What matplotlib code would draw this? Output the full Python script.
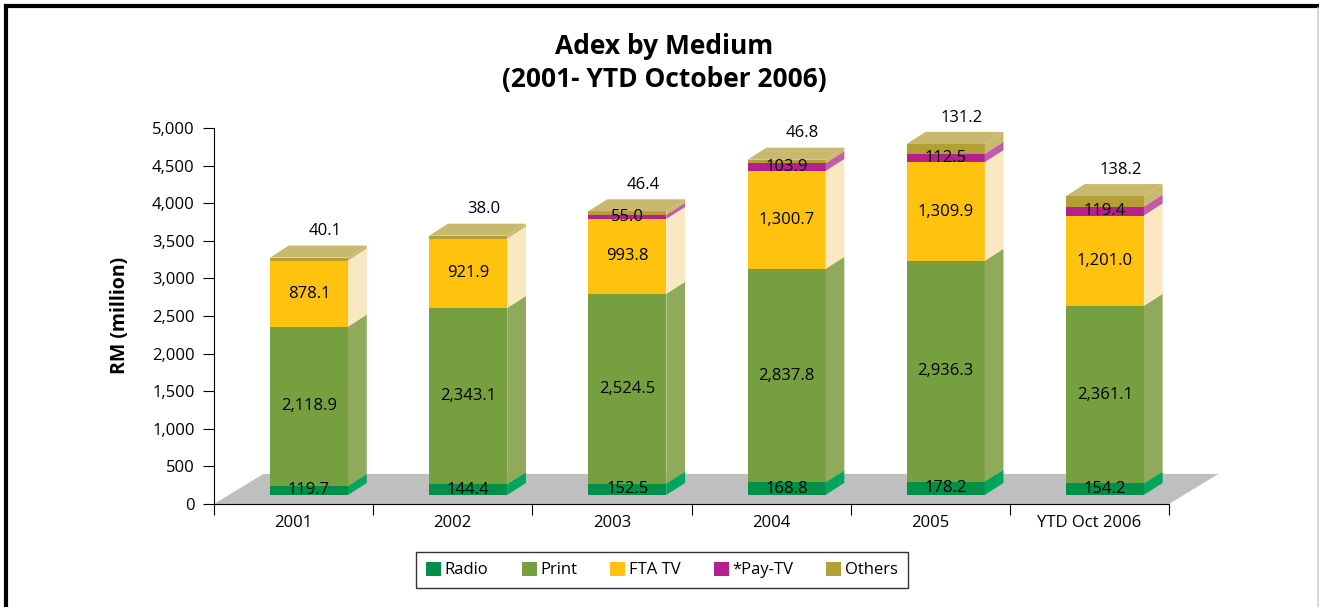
import matplotlib
matplotlib.use('Agg')
import matplotlib.pyplot as plt
from matplotlib.patches import Polygon, Rectangle, Patch
from matplotlib.lines import Line2D
from matplotlib.ticker import FuncFormatter, FixedLocator

plt.rcParams['font.family'] = ['Open Sans', 'DejaVu Sans']

years = ['2001', '2002', '2003', '2004', '2005', 'YTD Oct 2006']
radio = [119.7, 144.4, 152.5, 168.8, 178.2, 154.2]
print_ = [2118.9, 2343.1, 2524.5, 2837.8, 2936.3, 2361.1]
fta_tv = [878.1, 921.9, 993.8, 1300.7, 1309.9, 1201.0]
pay_tv = [0, 0, 55.0, 103.9, 112.5, 119.4]
others = [40.1, 38.0, 46.4, 46.8, 131.2, 138.2]

series_names = ['Radio', 'Print', 'FTA TV', '*Pay-TV', 'Others']
series_vals = [radio, print_, fta_tv, pay_tv, others]
front_cols = ['#00904A', '#76A040', '#FFC20E', '#B5208E', '#B3A034']
side_cols = ['#00A55E', '#8EAA5A', '#FAE8C2', '#C35CA6', '#C8B96E']
top_col = '#C8B96E'

W, H = 1319, 607
fig = plt.figure(figsize=(W / 100, H / 100), dpi=100)
ax = fig.add_axes([214 / W, 1 - 504 / H, 955 / W, 376 / H])
ax.set_xlim(0, 6)
ax.set_ylim(0, 5000)

# fake 3d depth (x in categories, y in RM)
dx, dy = 0.118, 160
fdx, fdy = 0.31, 400
base = 120
xoff, bw = 0.352, 0.49

floor = Polygon([(0, 0), (6, 0), (6 + fdx, fdy), (fdx, fdy)],
                closed=True, fc='#BFBFBF', ec='none', zorder=1, clip_on=False)
ax.add_patch(floor)

for i in range(len(years)):
    x0 = i + xoff
    x1 = x0 + bw
    bottom = base
    for k, vals in enumerate(series_vals):
        v = vals[i]
        if v <= 0:
            continue
        top = bottom + v
        ax.add_patch(Rectangle((x0, bottom), bw, v, fc=front_cols[k], ec='none', zorder=3))
        ax.add_patch(Polygon([(x1, bottom), (x1 + dx, bottom + dy), (x1 + dx, top + dy), (x1, top)],
                             closed=True, fc=side_cols[k], ec='none', zorder=3, clip_on=False))
        if k < 4:
            ax.text(x0 + bw / 2, bottom + v / 2, f'{v:,.1f}', ha='center', va='center',
                    fontsize=12, zorder=5)
        else:
            ax.text(x0 + bw / 2 + 0.1, top + dy + 190, f'{v:,.1f}', ha='center', va='center',
                    fontsize=12, zorder=5)
        bottom = top
    ax.add_patch(Polygon([(x0, bottom), (x0 + dx, bottom + dy), (x1 + dx, bottom + dy), (x1, bottom)],
                         closed=True, fc=top_col, ec='none', zorder=3, clip_on=False))

ax.spines['top'].set_visible(False)
ax.spines['right'].set_visible(False)
ax.spines['left'].set_zorder(6)
ax.spines['bottom'].set_zorder(6)

ax.yaxis.set_major_locator(FixedLocator(range(0, 5001, 500)))
ax.yaxis.set_major_formatter(FuncFormatter(lambda v, p: f'{v:,.0f}'))
ax.tick_params(axis='y', direction='out', length=8, labelsize=12, pad=6)

ax.set_xticks(range(0, 7))
ax.set_xticklabels([])
ax.set_xticks([i + 0.5 for i in range(6)], minor=True)
ax.set_xticklabels(years, minor=True, fontsize=12)
ax.tick_params(axis='x', which='major', direction='out', length=8)
ax.tick_params(axis='x', which='minor', length=0, pad=8)

fig.text(120 / W, 1 - 315 / H, 'RM (million)', rotation=90, ha='center', va='center',
         fontsize=14, fontweight='bold')
fig.text(664 / W, 1 - 47 / H, 'Adex by Medium', ha='center', va='center',
         fontsize=19, fontweight='bold')
fig.text(664 / W, 1 - 80 / H, '(2001- YTD October 2006)', ha='center', va='center',
         fontsize=19, fontweight='bold')

handles = [Patch(fc=c, ec='none') for c in front_cols]
leg = fig.legend(handles, series_names, loc='center', bbox_to_anchor=(662 / W, 1 - 570 / H),
                 ncol=5, frameon=True, fancybox=False, edgecolor='black', fontsize=12,
                 handlelength=0.9, handleheight=0.9, handletextpad=0.2, columnspacing=2.0,
                 borderpad=0.6)
leg.get_frame().set_linewidth(1.0)

# page border
fig.add_artist(Line2D([6 / W, 1], [1 - 6 / H, 1 - 6 / H], color='black', lw=3, transform=fig.transFigure))
fig.add_artist(Line2D([6 / W, 6 / W], [0, 1 - 6 / H], color='black', lw=3, transform=fig.transFigure))
fig.add_artist(Line2D([1317.5 / W, 1317.5 / W], [0, 1 - 8 / H], color='#D0D0D0', lw=1.2, transform=fig.transFigure))

fig.savefig('out.png', dpi=100)
